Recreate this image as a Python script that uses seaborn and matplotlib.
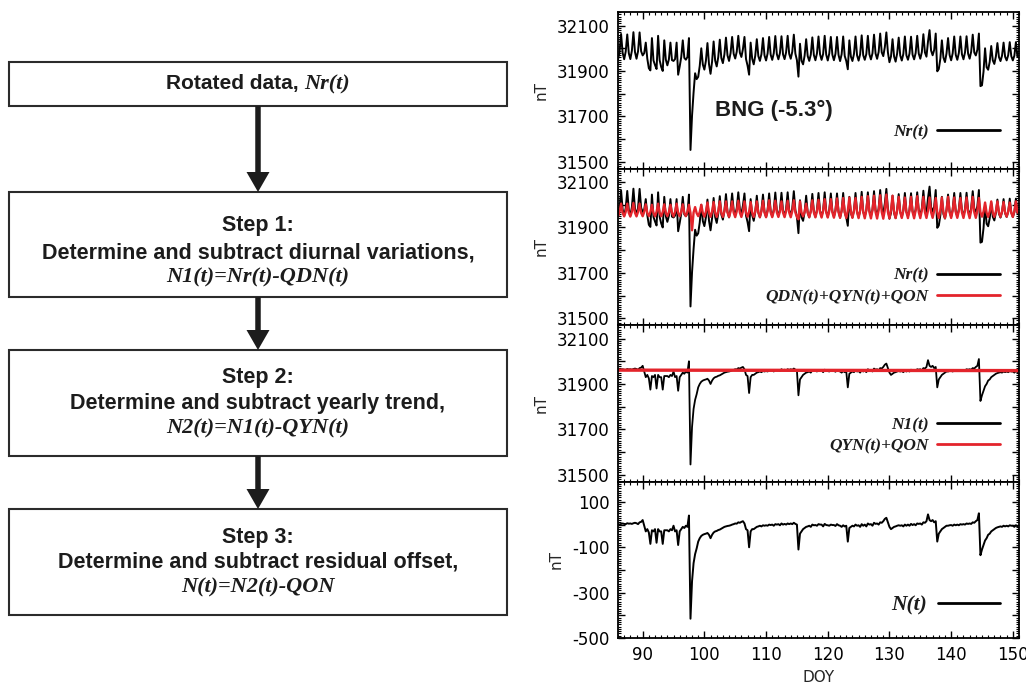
import numpy as np
import matplotlib
matplotlib.use("Agg")
import matplotlib.pyplot as plt
import seaborn as sns
from matplotlib.patches import Rectangle, FancyArrow
from matplotlib.offsetbox import TextArea, HPacker, AnnotationBbox
from matplotlib.ticker import MultipleLocator, FuncFormatter
from matplotlib.font_manager import FontProperties

sns.set_theme(style="ticks")
plt.rcParams['font.family'] = ['DejaVu Sans']

# ---------------- data ----------------
first_day = 86
samples_per_day = 4  # 00, 06, 12, 18 UT

# N(t), nT, four samples per day, days 86..150
n_by_day = [
    [2, 0, 3, 5], [3, 2, 6, 4], [5, 3, 6, 8], [6, 2, 10, 12],
    [20, -5, -30, -20], [-35, -85, -25, -30], [-20, -80, -20, -30], [-30, -85, -25, -25],
    [-25, -30, -20, -25], [-5, -30, -25, -90], [-30, -20, -10, -15], [-5, -10, 40, -415],
    [-250, -170, -130, -105], [-75, -60, -50, -45], [-42, -40, -37, -45], [-60, -45, -35, -30],
    [-28, -24, -22, -18], [-14, -10, -8, -6], [-5, -3, 0, 2], [5, 4, 10, 8],
    [12, 15, 5, -20], [-25, -100, -30, -20], [-20, -15, -10, -8], [-5, -8, -3, -5],
    [-3, -5, 0, -2], [0, -5, 2, 0], [2, -3, 5, 0], [3, 0, 5, 2],
    [5, 2, 8, 3], [0, -110, -40, -30], [-20, -15, -10, -8], [-5, -10, 0, -3],
    [-2, -5, 2, 0], [0, -8, 3, -2], [-3, -5, 0, -2], [-2, -6, 2, -3],
    [-5, -10, -3, -8], [-5, -75, -15, -10], [-5, -8, 0, -5], [-3, -10, 2, -5],
    [0, -8, 5, 0], [2, -5, 8, 3], [5, 0, 10, 8], [15, 25, 30, 10],
    [-10, -20, -15, -10], [-8, -5, -3, -5], [-3, -8, 0, -5], [0, -5, 3, -2],
    [2, -3, 5, 3], [5, 0, 10, 8], [15, 45, 20, 15], [20, 10, 15, -75],
    [-40, -30, -20, -15], [-10, -5, -5, -3], [-2, -5, 0, -3], [0, -3, 2, 0],
    [2, 0, 5, 3], [5, 3, 10, 8], [15, 20, 50, -135], [-110, -90, -70, -60],
    [-45, -40, -30, -25], [-20, -15, -12, -10], [-8, -10, -5, -8], [-5, -8, -3, -5],
    [-5, -10, -3, -8],
]

# daily diurnal range of the rotated record Nr(t), days 86..150
nr_amp = [100, 95, 105, 100,
          95, 110, 115, 100, 85, 90, 85, 45,
          60, 90,
          100, 105, 100, 95, 90, 85, 85, 95,
          90, 88, 90, 92, 88, 90, 92, 100,
          90, 88, 90, 92, 90, 88, 95, 90,
          92, 95, 90, 92, 95, 80, 95, 90,
          92, 88, 90, 92, 100, 90, 95, 90,
          92, 90, 88, 90, 55,
          110, 80, 75, 70, 70, 70]
nr_shape = [-0.12, 0.25, 1.0, 0.15]

# daily amplitude of the quiet-day curve QDN(t), days 86..150
qdn_amp = [45, 45, 48, 45, 42, 40, 45, 42, 40, 45, 42, 40,
           30, 40,
           50, 52, 55, 55, 55, 58, 55, 52, 55, 58, 60, 58, 55, 58, 60, 55,
           45, 60, 62, 65, 65, 68, 70, 72, 70, 75, 78, 80, 82, 85, 80,
           75, 72, 75, 78, 75, 72, 70, 72, 75, 72, 70, 72, 75, 70,
           50, 55, 55, 52, 50, 55]
qdn_shape = [-0.25, 0.2, 1.0, 0.1]
qdn_dip_t = [98.0, 115.25]
qdn_dip_v = [-65, -35]

qon = 31960
qyn_qon_days = [86, 151]
qyn_qon_vals = [31961, 31959]

# ---------------- derived series ----------------
n_days = len(n_by_day)
t = first_day + np.arange(n_days * samples_per_day) / samples_per_day
N = np.array(n_by_day, float).ravel()
N1 = N + qon
Nr = N1 + (np.array(nr_amp, float)[:, None] * np.array(nr_shape)[None, :]).ravel()
red = qon + (np.array(qdn_amp, float)[:, None] * np.array(qdn_shape)[None, :]).ravel()
for dt_, dv_ in zip(qdn_dip_t, qdn_dip_v):
    red[int(round((dt_ - first_day) * samples_per_day))] += dv_

RED = '#e3242b'
INK = '#1c1c1c'

fig = plt.figure(figsize=(10.26, 6.88), dpi=100)

# ---------------- flowchart ----------------
axf = fig.add_axes([0, 0, 1, 1])
axf.set_xlim(0, 1026)
axf.set_ylim(688, 0)
axf.axis('off')

sans = dict(family='Liberation Sans', weight='bold', size=15.5, color=INK)
serif = dict(family='Liberation Serif', weight='bold', style='italic', size=16, color=INK)

boxes = [(62, 44), (192, 105), (350, 106), (509, 106)]
for y0, h in boxes:
    axf.add_patch(Rectangle((9, y0), 498, h, fill=False, lw=1.5, ec='#2b2b2b'))
for i in range(3):
    y_start = boxes[i][0] + boxes[i][1]
    y_end = boxes[i + 1][0]
    axf.add_patch(FancyArrow(258, y_start, 0, y_end - y_start, width=5.5, head_width=23,
                             head_length=20, length_includes_head=True,
                             color=INK, lw=0))

hp = HPacker(children=[TextArea("Rotated data, ", textprops=dict(sans, size=15)),
                       TextArea("Nr(t)", textprops=serif)],
             align='baseline', pad=0, sep=0)
axf.add_artist(AnnotationBbox(hp, (258, 84), xycoords='data', frameon=False,
                              box_alignment=(0.5, 0.5), pad=0))

steps = [
    ("Step 1:", "Determine and subtract diurnal variations,", "N1(t)=Nr(t)-QDN(t)", (225, 253, 277)),
    ("Step 2:", "Determine and subtract yearly trend,", "N2(t)=N1(t)-QYN(t)", (378, 403, 428)),
    ("Step 3:", "Determine and subtract residual offset,", "N(t)=N2(t)-QON", (537, 562, 587)),
]
for s1, s2, s3, ys in steps:
    axf.text(258, ys[0], s1, ha='center', va='center', **sans)
    axf.text(258, ys[1], s2, ha='center', va='center', **sans)
    axf.text(258, ys[2], s3, ha='center', va='center', **serif)

# ---------------- time-series panels ----------------
gs = fig.add_gridspec(4, 1, left=618 / 1026, right=1019 / 1026,
                      top=1 - 12 / 688, bottom=1 - 638 / 688, hspace=0)
axes = [fig.add_subplot(gs[i]) for i in range(4)]

sns.lineplot(x=t, y=Nr, ax=axes[0], color='black', lw=1.4, estimator=None, label='Nr(t)')

sns.lineplot(x=t, y=Nr, ax=axes[1], color='black', lw=1.4, estimator=None, label='Nr(t)')
sns.lineplot(x=t, y=red, ax=axes[1], color=RED, lw=1.7, estimator=None,
             label='QDN(t)+QYN(t)+QON')

sns.lineplot(x=t, y=N1, ax=axes[2], color='black', lw=1.3, estimator=None, label='N1(t)')
sns.lineplot(x=qyn_qon_days, y=qyn_qon_vals, ax=axes[2], color=RED, lw=2.4,
             estimator=None, label='QYN(t)+QON')

sns.lineplot(x=t, y=N, ax=axes[3], color='black', lw=1.4, estimator=None, label='N(t)')

ylims = [(31470, 32160)] * 3 + [(-500, 190)]
label_sets = [{31500, 31700, 31900, 32100}] * 3 + [{-500, -300, -100, 100}]
leg_y = [0.179, 0.128, 0.173, 0.144]
leg_size = [12.5, 12.5, 12.5, 15.5]
leg_hlen = [3.6, 3.6, 3.6, 2.9]

for i, ax in enumerate(axes):
    ax.set_xlim(86, 151)
    ax.set_ylim(*ylims[i])
    ax.xaxis.set_major_locator(MultipleLocator(10))
    ax.xaxis.set_minor_locator(MultipleLocator(1))
    ax.yaxis.set_major_locator(MultipleLocator(100))
    ax.yaxis.set_minor_locator(MultipleLocator(10))
    labs = label_sets[i]
    ax.yaxis.set_major_formatter(FuncFormatter(
        lambda v, p, labs=labs: f"{int(round(v))}" if int(round(v)) in labs else ""))
    ax.tick_params(which='both', direction='in', top=True, right=True,
                   bottom=True, left=True, colors='black')
    ax.tick_params(which='major', length=5, width=1.0, labelsize=12, pad=6)
    ax.tick_params(which='minor', length=2.5, width=0.8)
    if i < 3:
        ax.tick_params(labelbottom=False)
        ax.set_xlabel('')
    for sp in ax.spines.values():
        sp.set_linewidth(1.3)
        sp.set_color('black')
    ax.set_ylabel('nT', fontsize=11, labelpad=6)
    fp = FontProperties(family='Liberation Serif', style='italic', weight='bold',
                        size=leg_size[i])
    leg = ax.legend(loc='lower right', bbox_to_anchor=(0.9526, leg_y[i]),
                    frameon=False, markerfirst=False, prop=fp, handlelength=leg_hlen[i],
                    handletextpad=0.5, borderpad=0, borderaxespad=0, labelspacing=0.3)
    for txt in leg.get_texts():
        txt.set_color(INK)
    for ln in leg.get_lines():
        ln.set_linewidth(2.0)

axes[3].set_xlabel('DOY', fontsize=11, labelpad=4)
axes[3].set_xticks([90, 100, 110, 120, 130, 140, 150])

axes[0].text(101.7, 31728, 'BNG (-5.3°)', ha='left', va='center',
             family='Liberation Sans', weight='bold', size=16, color=INK)

fig.savefig('out.png', dpi=100)
